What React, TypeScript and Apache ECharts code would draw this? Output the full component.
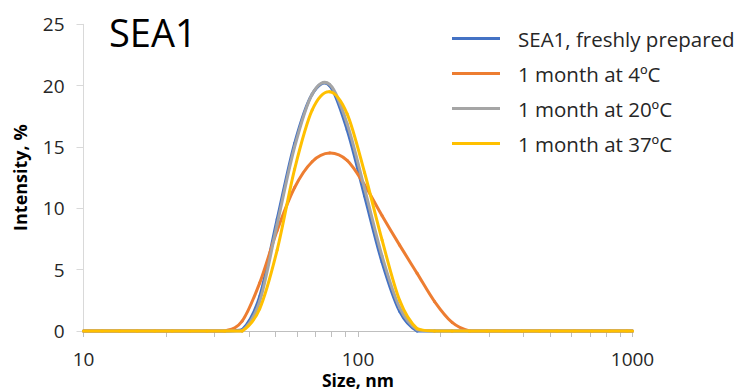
import React, { useEffect, useRef } from "react";
import * as echarts from "echarts";

const sizes = [10, 11.7, 13.54, 15.69, 18.17, 21.04, 24.36, 28.21, 32.67, 37.84, 43.82, 50.75, 58.77, 68.06, 78.82, 91.28, 105.7, 122.4, 141.8, 164.2, 190.1, 220.2, 255.0, 295.3, 342.0, 396.1, 458.7, 531.2, 615.1, 712.4, 825.0, 955.4, 1000];

const fresh = [0, 0, 0, 0, 0, 0, 0, 0, 0, 0.1, 2.8, 9.1, 15.3, 19.3, 20.0, 16.4, 11.0, 5.6, 1.6, 0, 0, 0, 0, 0, 0, 0, 0, 0, 0, 0, 0, 0, 0];
const month4 = [0, 0, 0, 0, 0, 0, 0, 0, 0, 0.8, 3.9, 8.2, 11.7, 13.8, 14.5, 13.9, 11.9, 9.4, 7.0, 4.7, 2.4, 0.7, 0, 0, 0, 0, 0, 0, 0, 0, 0, 0, 0];
const month20 = [0, 0, 0, 0, 0, 0, 0, 0, 0, 0, 2.4, 8.7, 15.0, 19.3, 20.1, 16.9, 11.6, 6.1, 1.9, 0.1, 0, 0, 0, 0, 0, 0, 0, 0, 0, 0, 0, 0, 0];
const month37 = [0, 0, 0, 0, 0, 0, 0, 0, 0, 0, 1.8, 6.6, 13.2, 18.0, 19.5, 17.7, 12.9, 7.4, 2.5, 0.2, 0, 0, 0, 0, 0, 0, 0, 0, 0, 0, 0, 0, 0];

const seriesNames = ["SEA1, freshly prepared", "1 month at 4ºC", "1 month at 20ºC", "1 month at 37ºC"];
const seriesColors = ["#4472C4", "#ED7D31", "#A5A5A5", "#FFC000"];
const seriesValues = [fresh, month4, month20, month37];

const xTickValues = [10, 20, 30, 40, 50, 60, 70, 80, 90, 100, 200, 300, 400, 500, 600, 700, 800, 900, 1000];
const xLabelValues = [10, 100, 1000];

const FONT = "Open Sans";

function makeRenderItem(values: number[], color: string) {
  return (params: any, api: any) => {
    const j = params.dataIndex;
    if (j >= sizes.length - 1) return null;
    const i0 = Math.max(0, j - 1);
    const i3 = Math.min(sizes.length - 1, j + 2);
    const p0 = api.coord([sizes[i0], values[i0]]);
    const p1 = api.coord([sizes[j], values[j]]);
    const p2 = api.coord([sizes[j + 1], values[j + 1]]);
    const p3 = api.coord([sizes[i3], values[i3]]);
    const base = api.coord([sizes[0], 0])[1];
    const c1x = p1[0] + (p2[0] - p0[0]) / 6;
    const c1y = Math.min(base, p1[1] + (p2[1] - p0[1]) / 6);
    const c2x = p2[0] - (p3[0] - p1[0]) / 6;
    const c2y = Math.min(base, p2[1] - (p3[1] - p1[1]) / 6);
    return {
      type: "path",
      silent: true,
      shape: {
        pathData: `M${p1[0]},${p1[1]} C${c1x},${c1y} ${c2x},${c2y} ${p2[0]},${p2[1]}`,
      },
      style: { fill: "none", stroke: color, lineWidth: 3, lineCap: "round", lineJoin: "round" },
    };
  };
}

export default function App() {
  const ref = useRef<HTMLDivElement>(null);
  useEffect(() => {
    if (!ref.current) return;
    const chart = echarts.init(ref.current, null, { renderer: "svg" });
    chart.setOption({
      animation: false,
      backgroundColor: "#ffffff",
      title: {
        text: "SEA1",
        left: 104,
        top: 8,
        textStyle: { fontFamily: FONT, fontSize: 38, fontWeight: "normal", color: "#000000" },
      },
      legend: {
        orient: "vertical",
        left: 447,
        top: 23,
        icon: "rect",
        itemWidth: 48,
        itemHeight: 3,
        itemGap: 14,
        data: seriesNames,
        textStyle: { fontFamily: FONT, fontSize: 20.5, color: "#262626", padding: [0, 0, 0, 13] },
      },
      grid: { left: 83.5, right: 110.5, top: 24.3, bottom: 59, containLabel: false, outerBoundsMode: "none" },
      xAxis: {
        type: "log",
        logBase: 10,
        min: 10,
        max: 1000,
        name: "Size, nm",
        nameLocation: "middle",
        nameGap: 40,
        nameMoveOverlap: false,
        nameTextStyle: { fontFamily: FONT, fontSize: 17.5, lineHeight: 17, fontWeight: "bold", color: "#000000" },
        axisLine: { show: true, lineStyle: { color: "#bfbfbf", width: 1 } },
        axisTick: { show: true, length: 6, customValues: xTickValues, lineStyle: { color: "#bfbfbf" } },
        axisLabel: {
          margin: 18,
          lineHeight: 19,
          customValues: xLabelValues,
          formatter: (v: number) => String(Math.round(v)),
          fontFamily: FONT,
          fontSize: 19,
          color: "#262626",
        },
        splitLine: { show: false },
        minorTick: { show: false },
      },
      yAxis: {
        type: "value",
        min: 0,
        max: 25,
        interval: 5,
        name: "Intensity, %",
        nameLocation: "middle",
        nameGap: 55,
        nameRotate: 90,
        nameMoveOverlap: false,
        nameTextStyle: { fontFamily: FONT, fontSize: 18, fontWeight: "bold", color: "#000000" },
        axisLine: { show: true, lineStyle: { color: "#d9d9d9", width: 1 } },
        axisTick: { show: true, length: 7, lineStyle: { color: "#d9d9d9" } },
        axisLabel: { margin: 19, fontFamily: FONT, fontSize: 19, color: "#262626" },
        splitLine: { show: false },
      },
      series: seriesNames.map((name, i) => ({
        name,
        type: "custom",
        coordinateSystem: "cartesian2d",
        data: sizes.map((s, j) => [s, seriesValues[i][j]]),
        encode: { x: 0, y: 1 },
        clip: false,
        itemStyle: { color: seriesColors[i] },
        renderItem: makeRenderItem(seriesValues[i], seriesColors[i]),
      })),
    });
    return () => chart.dispose();
  }, []);
  return <div ref={ref} style={{ position: "fixed", left: 0, top: 0, width: 743, height: 390 }} />;
}
